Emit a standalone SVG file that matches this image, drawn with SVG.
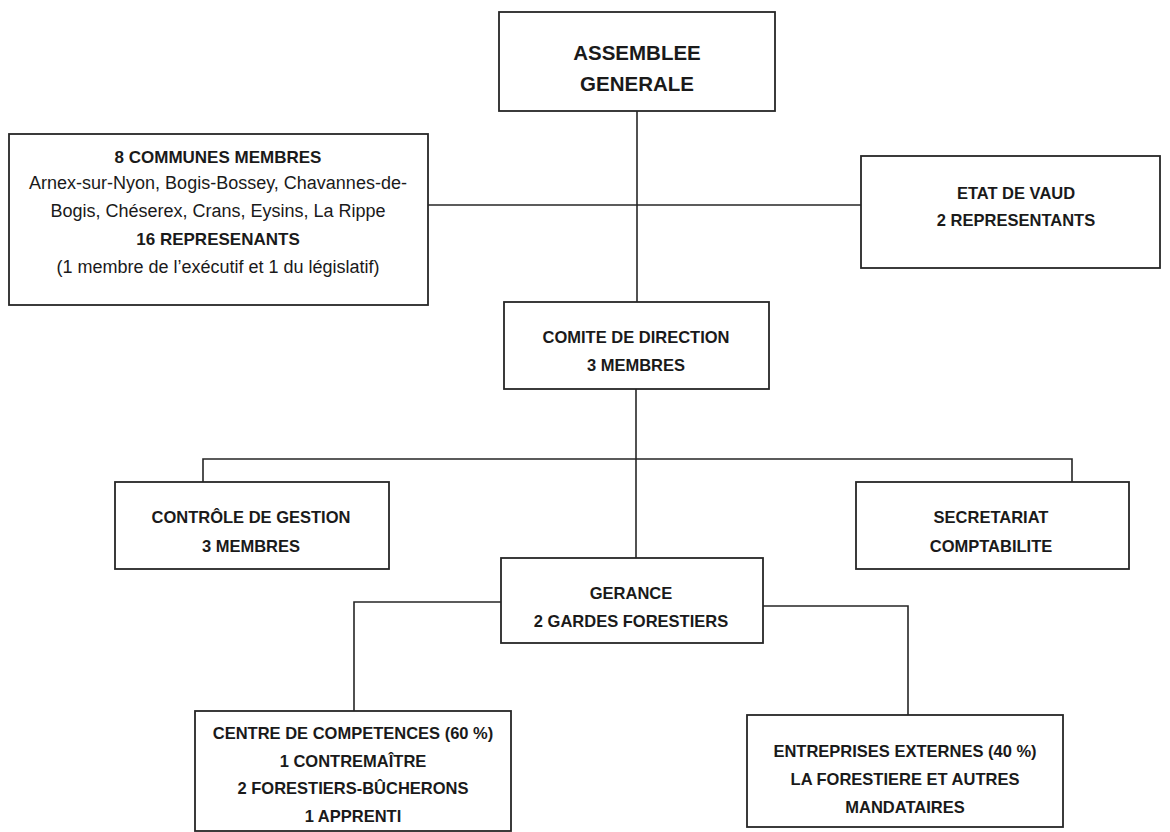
<svg xmlns="http://www.w3.org/2000/svg" width="1170" height="832" viewBox="0 0 1170 832">
<style>
.box{fill:#fff;stroke:#262626;stroke-width:1.8}
.ln{fill:none;stroke:#262626;stroke-width:1.6}
text{font-family:"Liberation Sans",Arial,sans-serif;fill:#1a1a1a;text-anchor:middle}
.t{font-size:16.5px;font-weight:bold}
.h{font-size:20.5px;font-weight:bold}
.r{font-size:18px}
.b{font-size:17px;font-weight:bold}
</style>
<rect width="1170" height="832" fill="#fff"/>
<g id="connectors">
<path class="ln" d="M637 111V302"/>
<path class="ln" d="M428 205H861"/>
<path class="ln" d="M636 389V558"/>
<path class="ln" d="M203 482V459H1072V482"/>
<path class="ln" d="M501 602H354V711"/>
<path class="ln" d="M763 606H908V715"/>
</g>
<g id="assemblee">
<rect class="box" x="499" y="12" width="276" height="99"/>
<text class="h" x="637" y="60">ASSEMBLEE</text>
<text class="h" x="637" y="91">GENERALE</text>
</g>
<g id="communes">
<rect class="box" x="9" y="134" width="419" height="171"/>
<text class="b" x="218" y="163">8 COMMUNES MEMBRES</text>
<text class="r" x="218" y="189">Arnex-sur-Nyon, Bogis-Bossey, Chavannes-de-</text>
<text class="r" x="218" y="217">Bogis, Chéserex, Crans, Eysins, La Rippe</text>
<text class="b" x="218" y="245">16 REPRESENANTS</text>
<text class="r" x="218" y="273">(1 membre de l’exécutif et 1 du législatif)</text>
</g>
<g id="etat">
<rect class="box" x="861" y="156" width="299" height="112"/>
<text class="t" x="1016" y="199">ETAT DE VAUD</text>
<text class="t" x="1016" y="226">2 REPRESENTANTS</text>
</g>
<g id="comite">
<rect class="box" x="504" y="302" width="265" height="87"/>
<text class="t" x="636" y="343">COMITE DE DIRECTION</text>
<text class="t" x="636" y="371">3 MEMBRES</text>
</g>
<g id="controle">
<rect class="box" x="115" y="482" width="274" height="87"/>
<text class="t" x="251" y="523">CONTRÔLE DE GESTION</text>
<text class="t" x="251" y="552">3 MEMBRES</text>
</g>
<g id="secretariat">
<rect class="box" x="856" y="482" width="273" height="87"/>
<text class="t" x="991" y="523">SECRETARIAT</text>
<text class="t" x="991" y="552">COMPTABILITE</text>
</g>
<g id="gerance">
<rect class="box" x="501" y="558" width="262" height="85"/>
<text class="t" x="631" y="599">GERANCE</text>
<text class="t" x="631" y="627">2 GARDES FORESTIERS</text>
</g>
<g id="centre">
<rect class="box" x="195" y="711" width="316" height="120"/>
<text class="t" x="353" y="739">CENTRE DE COMPETENCES (60 %)</text>
<text class="t" x="353" y="767">1 CONTREMAÎTRE</text>
<text class="t" x="353" y="794">2 FORESTIERS-BÛCHERONS</text>
<text class="t" x="353" y="822">1 APPRENTI</text>
</g>
<g id="entreprises">
<rect class="box" x="747" y="715" width="316" height="112"/>
<text class="t" x="905" y="757">ENTREPRISES EXTERNES (40 %)</text>
<text class="t" x="905" y="785">LA FORESTIERE ET AUTRES</text>
<text class="t" x="905" y="813">MANDATAIRES</text>
</g>
</svg>
